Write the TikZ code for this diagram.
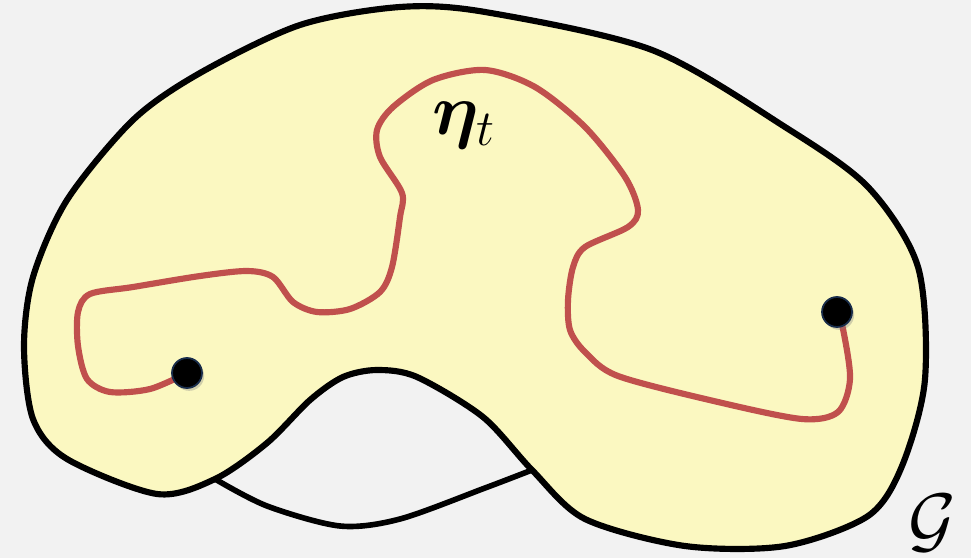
\documentclass[tikz,border=0pt]{standalone}
\usepackage{amsmath,amssymb,bm}
\usepackage{xcolor}
\usepackage{tikz}
\usetikzlibrary{shadows, positioning}

\definecolor{bgGray}{RGB}{242,242,242}
\definecolor{domYellow}{RGB}{251,248,193}
\definecolor{pathRed}{RGB}{192,80,77}
\definecolor{dotRim}{RGB}{25,45,75}

\begin{document}
\begin{tikzpicture}[x=0.01cm, y=-0.01cm]

\tikzstyle{regionG}=[draw=black, line width=1.75pt, fill=domYellow]
\tikzstyle{notchline}=[draw=black, line width=1.6pt]
\tikzstyle{trail}=[draw=pathRed, line width=1.75pt, line cap=round]
\tikzstyle{dot}=[circle, fill=black, draw=dotRim, line width=0.5pt, minimum size=0.3cm, inner sep=0pt, drop shadow={shadow xshift=0.6pt, shadow yshift=-0.8pt, opacity=0.35}]
\tikzstyle{mathtag}=[font=\huge, inner sep=0pt]

% canvas
\fill[bgGray] (0,0) rectangle (971,558);
\useasboundingbox (0,0) rectangle (971,558);

% region G
\draw[regionG] plot[smooth cycle] coordinates {
  (215,479) (157,494) (67,459) (33,419) (24,346) (33,277) (67,200)
  (133,120) (200,73) (300,25) (400,7) (485,12) (652,50) (785,127)
  (868,187) (918,267) (925,379) (902,466) (868,516) (785,546)
  (685,546) (585,519) (532,470) (483,417) (417,377) (377,370)
  (343,377) (310,400) (267,443)};

% lower edge of the notch
\draw[notchline] plot[smooth] coordinates {(215,479) (267,506) (340,526) (400,519) (485,488) (532,470)};

% end points
\coordinate (p0) at (187,373);
\coordinate (p1) at (837,312);

% the path eta_t
\draw[trail] plot[smooth] coordinates {
  (p0) (150,389) (110,392) (87,379) (78,346) (78,312) (90,294)
  (133,287) (200,276) (247,271) (273,277) (293,302) (317,312)
  (350,309) (380,292) (392,267) (400,217) (402,193) (380,157)
  (377,130) (393,107) (433,80) (485,70) (535,87) (585,127)
  (625,177) (638,210) (628,227) (585,247) (573,267) (568,300)
  (570,330) (585,352) (618,376) (718,402) (802,419) (838,412)
  (850,379) (843,329) (p1)};

\node[dot] (start) at (p0) {};
\node[dot] (tip) at (p1) {};

% labels
\node[mathtag, anchor=base] (eta) at (464,135) {$\bm{\eta}_t$};
\node[mathtag] (G) at (932,523) {$\mathcal{G}$};

\end{tikzpicture}
\end{document}
